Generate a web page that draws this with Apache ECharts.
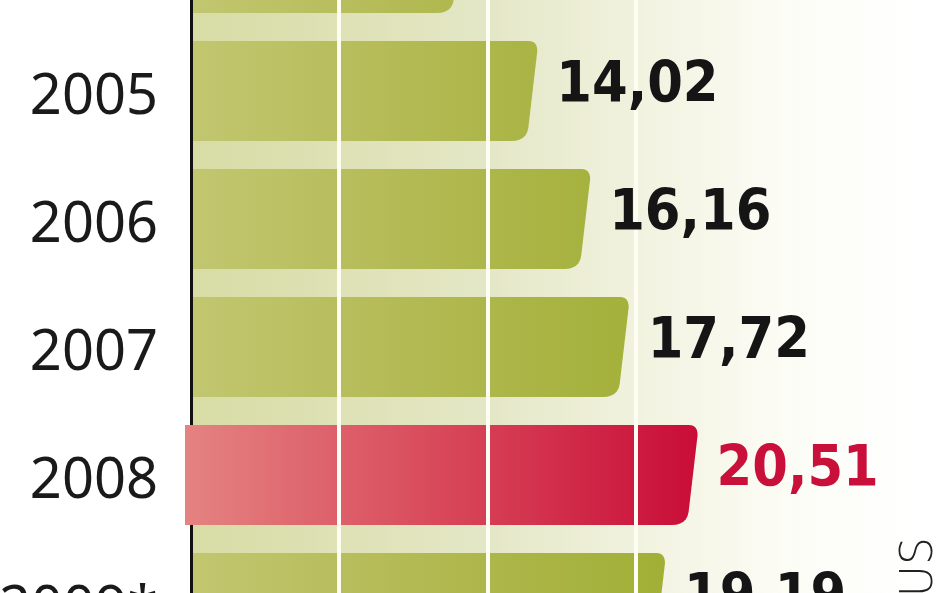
<!DOCTYPE html>
<html>
<head>
<meta charset="utf-8">
<script src="https://cdn.jsdelivr.net/npm/echarts@6/dist/echarts.min.js"></script>
<style>html,body{margin:0;padding:0;background:#fff;}#c{width:948px;height:593px;}</style>
</head>
<body>
<div id="c"></div>
<script>
// Data
const years = ['2004', '2005', '2006', '2007', '2008', '2009*'];
const values = [11.0, 14.02, 16.16, 17.72, 20.51, 19.19];
const valueLabels = ['', '14,02', '16,16', '17,72', '20,51', '19,19'];
const highlightYear = '2008';
const sourceText = 'US';

const chart = echarts.init(document.getElementById('c'));

function quad(a, c, b, n) {
  const pts = [];
  for (let i = 1; i <= n; i++) {
    const t = i / n;
    const u = 1 - t;
    pts.push([u*u*a[0] + 2*u*t*c[0] + t*t*b[0], u*u*a[1] + 2*u*t*c[1] + t*t*b[1]]);
  }
  return pts;
}

const greenFill = {type: 'linear', global: true, x: 193, y: 0, x2: 700, y2: 0,
  colorStops: [{offset: 0, color: '#c2c670'}, {offset: 0.5, color: '#b0b84f'}, {offset: 1, color: '#9fae32'}]};
const redFill = {type: 'linear', global: true, x: 185, y: 0, x2: 700, y2: 0,
  colorStops: [{offset: 0, color: '#e48381'}, {offset: 0.5, color: '#d8485a'}, {offset: 1, color: '#c90c37'}]};

function renderBar(params, api) {
  const v = api.value(0);
  const idx = api.value(1);
  const isHi = years[idx] === highlightYear;
  const pEnd = api.coord([v, idx]);
  const pZero = api.coord([0, idx]);
  const cy = pEnd[1];
  const h = 100;
  const yt = cy - h / 2, yb = cy + h / 2;
  const x0 = isHi ? pZero[0] - 6 : pZero[0] + 2;
  const x1 = pEnd[0];
  let pts = [[x0, yt], [x1 - 9, yt]];
  pts = pts.concat(quad([x1 - 9, yt], [x1, yt], [x1, yt + 10], 6));
  pts.push([x1 - 9, yb - 13]);
  pts = pts.concat(quad([x1 - 9, yb - 13], [x1 - 11, yb], [x1 - 26, yb], 6));
  pts.push([x0, yb]);
  return {
    type: 'polygon',
    shape: {points: pts},
    style: {fill: isHi ? redFill : greenFill}
  };
}

function renderLabel(params, api) {
  const v = api.value(0);
  const idx = api.value(1);
  const isHi = years[idx] === highlightYear;
  const pEnd = api.coord([v, idx]);
  const cy = pEnd[1];
  const lbl = valueLabels[idx];
  if (!lbl || cy - 30 < 0) return null;
  return {
    type: 'text',
    style: {
      text: lbl,
      x: pEnd[0] + 19,
      y: cy - 4,
      align: 'left',
      verticalAlign: 'middle',
      fontSize: 57,
      fontWeight: 'bold',
      fontFamily: '"DejaVu Sans Condensed", "Liberation Sans Narrow", "DejaVu Sans", sans-serif',
      fill: isHi ? '#c8103a' : '#151515'
    }
  };
}

const seriesData = values.map((v, i) => [v, i]);

const option = {
  animation: false,
  backgroundColor: '#ffffff',
  grid: {
    left: 191, top: -101, width: 741, height: 768,
    outerBoundsMode: 'none',
    containLabel: false,
    show: true, borderWidth: 0,
    backgroundColor: {type: 'linear', x: 0, y: 0, x2: 1, y2: 0,
      colorStops: [
        {offset: 0, color: '#d8dca4'},
        {offset: 0.4, color: '#e4e7c6'},
        {offset: 0.6, color: '#f1f2de'},
        {offset: 0.8, color: '#fcfcf6'},
        {offset: 1, color: '#ffffff'}
      ]}
  },
  xAxis: {
    type: 'value', min: 0, max: 30, interval: 6, z: 5,
    axisLine: {show: false}, axisTick: {show: false}, axisLabel: {show: false},
    splitLine: {show: true, showMinLine: false, showMaxLine: false, lineStyle: {color: '#fdfdf3', width: 4}}
  },
  yAxis: {
    type: 'category', data: years, inverse: true, z: 2,
    axisLine: {show: true, lineStyle: {color: '#111111', width: 3}},
    axisTick: {show: false},
    splitLine: {show: false},
    axisLabel: {
      margin: 33,
      color: '#1a1a1a',
      formatter: function (val, i) { return i === 0 ? '' : '{y|' + val + '}'; },
      rich: {
        y: {
          fontSize: 56,
          fontFamily: '"Noto Sans", "Liberation Sans", sans-serif',
          color: '#1a1a1a',
          lineHeight: 56,
          padding: [14, 0, 0, 0]
        }
      }
    }
  },
  series: [{
    type: 'custom',
    renderItem: renderBar,
    encode: {x: 0, y: 1},
    data: seriesData,
    z: 3
  }, {
    type: 'custom',
    renderItem: renderLabel,
    encode: {x: 0, y: 1},
    data: seriesData,
    z: 8
  }],
  graphic: [{
    type: 'text',
    x: 921, y: 537,
    rotation: Math.PI / 2,
    style: {
      text: sourceText,
      align: 'right',
      verticalAlign: 'middle',
      fontSize: 44,
      fontWeight: 200,
      fontFamily: '"DejaVu Sans", sans-serif',
      fill: '#222222'
    }
  }]
};
chart.setOption(option);
</script>
</body>
</html>
